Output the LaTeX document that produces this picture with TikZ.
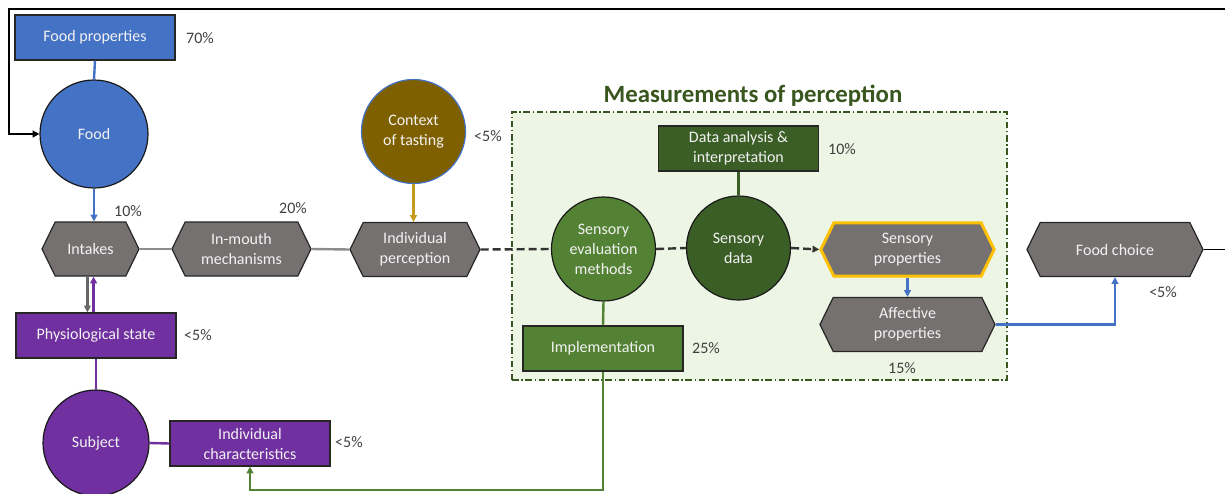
\documentclass[tikz,border=0pt]{standalone}
\usepackage{fontspec}
\setmainfont{Carlito}
\usetikzlibrary{shapes.symbols,shapes.geometric,arrows.meta,calc}
\definecolor{fblue}{HTML}{4472C4}
\definecolor{hgray}{HTML}{767171}
\definecolor{purp}{HTML}{7030A0}
\definecolor{ctxbrown}{HTML}{7F6000}
\definecolor{goldline}{HTML}{C59A1A}
\definecolor{dgreen}{HTML}{3B5E26}
\definecolor{mgreen}{HTML}{548235}
\definecolor{lgreen}{HTML}{EDF5E4}
\definecolor{ttl}{HTML}{38561E}
\definecolor{yel}{HTML}{FFC000}
\definecolor{pct}{HTML}{404040}
\definecolor{txtw}{HTML}{F2F2F2}
\begin{document}
\begin{tikzpicture}[x=0.75pt,y=-0.75pt,
  every node/.style={font=\fontsize{12}{15}\selectfont},
  rbox/.style={draw=black!85,line width=0.9pt,text=txtw,minimum width=120pt,minimum height=33.75pt,align=center,inner sep=1pt},
  circ/.style={circle,draw=black!90,line width=0.9pt,text=txtw,minimum size=79pt,align=center,inner sep=0pt},
  hex/.style={signal,signal to=west and east,signal pointer angle=128,fill=hgray,draw=black!85,line width=0.9pt,text=txtw,minimum height=40.5pt,align=center,inner sep=1pt},
  pct/.style={text=pct,inner sep=0pt},
  conn/.style={line width=1.8pt},
  tip/.style={-{Triangle[length=5pt,width=5pt]}}
]
\useasboundingbox (0,0) rectangle (1225,493);
% green measurement area
\node[draw=ttl,fill=lgreen,line width=0.8pt,dash pattern=on 5pt off 2pt on 1pt off 2pt,minimum width=371.25pt,minimum height=201pt,inner sep=0pt] (meas) at (759.5,246) {};
\node[text=ttl,font=\bfseries\fontsize{18.6}{22}\selectfont] (title) at (753,96) {Measurements of perception};

% nodes
\node[rbox,fill=fblue] (fprop) at (95,37.5) {Food properties};
\node[pct] (p70) at (200,38) {70\%};
\node[circ,fill=fblue,minimum size=81pt] (food) at (94,134) {Food};
\node[hex,minimum width=72.75pt] (intakes) at (90.5,249) {Intakes};
\node[pct] (p10a) at (128,211) {10\%};
\node[hex,minimum width=104.25pt] (mouth) at (241.5,249) {In-mouth\\mechanisms};
\node[pct] (p20) at (293,208) {20\%};
\node[hex,minimum width=97.5pt] (indp) at (415,249.5) {Individual\\perception};
\node[circ,fill=ctxbrown,draw=fblue,minimum size=78pt] (ctx) at (413.5,131.5) {Context\\of tasting};
\node[pct] (p5a) at (488,136) {<5\%};
\node[rbox,fill=purp] (phys) at (96,335.5) {Physiological state};
\node[pct] (p5b) at (198,335) {<5\%};
\node[circ,fill=purp,minimum size=79.5pt] (subj) at (96,443) {Subject};
\node[rbox,fill=purp] (indc) at (250,443.5) {Individual\\characteristics};
\node[pct] (p5c) at (349,442) {<5\%};

\node[rbox,fill=dgreen] (data) at (738.5,148.5) {Data analysis \&\\interpretation};
\node[pct] (p10b) at (842,149) {10\%};
\node[circ,fill=mgreen,minimum size=78pt] (sem) at (603.5,249) {Sensory\\evaluation\\methods};
\node[circ,fill=dgreen,minimum size=78pt] (sd) at (738.5,248) {Sensory\\data};
\node[rbox,fill=mgreen] (impl) at (603,348.5) {Implementation};
\node[pct] (p25) at (706,348) {25\%};
\node[hex,draw=yel,line width=2.2pt,minimum width=130pt,minimum height=40pt] (sprop) at (907.5,249.5) {Sensory\\properties};
\node[hex,minimum width=131.25pt] (aprop) at (907.5,324.5) {Affective\\properties};
\node[pct] (p15) at (902,368) {15\%};
\node[hex,minimum width=132pt] (fc) at (1115,249.5) {Food choice};
\node[pct] (p5d) at (1163,292) {<5\%};

% connectors
\draw[conn,fblue] (fprop.south) -- (food.north);
\draw[conn,fblue,tip] (food.south) -- (intakes.north -| food.south);
\draw[conn,black!45] (intakes.east) -- (mouth.west);
\draw[conn,black!45] (mouth.east) -- (indp.west);
\draw[conn,goldline,tip] (ctx.south) -- (indp.north -| ctx.south);
\draw[conn,black!80,dash pattern=on 6pt off 3pt] (indp.east) -- (sem.west);
\draw[conn,black!80,dash pattern=on 6pt off 3pt] (sem.east) -- (sd.west);
\draw[conn,black!80,dash pattern=on 6pt off 3pt,tip] (sd.east) -- (sprop.west);
\draw[conn,dgreen] (data.south) -- (sd.north);
\draw[conn,mgreen] (sem.south) -- (impl.north);
\draw[conn,mgreen,tip] (impl.south) -- (603,490) -| (indc.south);
\draw[conn,fblue,tip] (sprop.south) -- (aprop.north);
\draw[conn,fblue,tip] (aprop.east) -| (fc.south);
\draw[conn,black!60,tip] ([xshift=-2.3pt]intakes.south) -- ([xshift=-2.3pt]intakes.south |- phys.north);
\draw[conn,purp,tip] ([xshift=2.3pt]intakes.south |- phys.north) -- ([xshift=2.3pt]intakes.south);
\draw[conn,purp] (phys.south) -- (subj.north);
\draw[conn,purp] (subj.east) -- (indc.west);
\draw[line width=1.2pt,black,tip] (fc.east) -- (1240,249.5) -- (1240,9) -- (9,9) -- (9,134) -- (food.west);
\end{tikzpicture}
\end{document}
